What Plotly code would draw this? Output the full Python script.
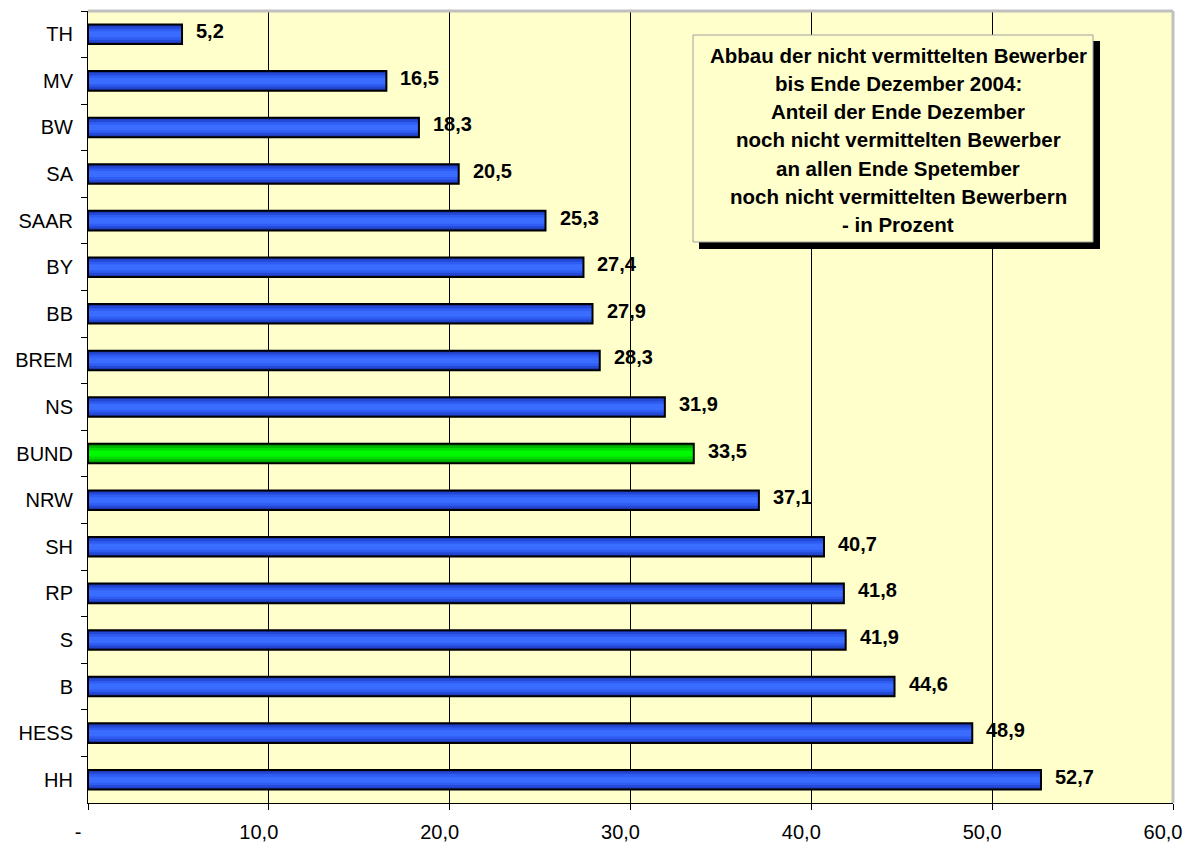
import plotly.graph_objects as go

categories = ["TH", "MV", "BW", "SA", "SAAR", "BY", "BB", "BREM", "NS", "BUND",
              "NRW", "SH", "RP", "S", "B", "HESS", "HH"]
values = [5.2, 16.5, 18.3, 20.5, 25.3, 27.4, 27.9, 28.3, 31.9, 33.5,
          37.1, 40.7, 41.8, 41.9, 44.6, 48.9, 52.7]
highlight = "BUND"

x_tickvals = [0, 10, 20, 30, 40, 50, 60]
x_ticktext = ["-", "10,0", "20,0", "30,0", "40,0", "50,0", "60,0"]

title_lines = [
    "Abbau der nicht vermittelten Bewerber",
    "bis Ende Dezember 2004:",
    "Anteil der Ende Dezember",
    "noch nicht vermittelten Bewerber",
    "an allen Ende Spetember",
    "noch nicht vermittelten Bewerbern",
    "- in Prozent",
]

W, H = 1192, 844
ML, MR, MT, MB = 88, 19, 11, 41
PW, PH = W - ML - MR, H - MT - MB


def px(x):
    return (x - ML) / PW


def py(y):
    return (H - MB - y) / PH


FONT = "Liberation Sans, Arial, sans-serif"

# gradient layers (outer -> inner)
blue_layers = ["#1a36a8", "#2449d4", "#2f5cf2", "#3a6cff"]
green_layers = ["#009000", "#00b800", "#00dc00", "#00f800"]
widths = [0.42, 0.34, 0.24, 0.13]

fig = go.Figure()
for i, w in enumerate(widths):
    cols = [green_layers[i] if c == highlight else blue_layers[i] for c in categories]
    fig.add_trace(go.Bar(
        x=values, y=categories, orientation="h", width=w,
        marker=dict(color=cols, line=dict(width=0)),
        hoverinfo="skip", showlegend=False,
    ))
# outline layer
fig.add_trace(go.Bar(
    x=values, y=categories, orientation="h", width=widths[0],
    marker=dict(color="rgba(0,0,0,0)", line=dict(color="black", width=2)),
    showlegend=False,
))

annotations = []
for c, v in zip(categories, values):
    annotations.append(dict(
        x=v, y=c, xref="x", yref="y", text=f"{v:.1f}".replace(".", ","),
        showarrow=False, xanchor="left", yanchor="middle", xshift=12, yshift=3,
        font=dict(family=FONT, size=20, color="black", weight="bold"),
    ))

text_cx = px(898)
cap_tops = [48, 76.3, 104.6, 132.9, 161.2, 189.5, 217.8]
for line, ct in zip(title_lines, cap_tops):
    annotations.append(dict(
        x=text_cx, y=py(ct + 7), xref="paper", yref="paper", text=line,
        showarrow=False, xanchor="center", yanchor="middle",
        font=dict(family=FONT, size=20.5, color="black", weight="bold"),
    ))

shapes = [
    # box shadow
    dict(type="rect", xref="paper", yref="paper",
         x0=px(699), x1=px(1100), y0=py(249), y1=py(41),
         fillcolor="black", line=dict(width=0), layer="above"),
    # box
    dict(type="rect", xref="paper", yref="paper",
         x0=px(693), x1=px(1093), y0=py(242), y1=py(35),
         fillcolor="#FFFFCC", line=dict(color="#a0a0a0", width=1), layer="above"),
    # gray plot border top / right
    dict(type="line", xref="paper", yref="paper", x0=0, x1=1, y0=1, y1=1,
         line=dict(color="#c0c0c0", width=3), layer="above"),
    dict(type="line", xref="paper", yref="paper", x0=1, x1=1, y0=0, y1=1,
         line=dict(color="#c0c0c0", width=3), layer="above"),
]

fig.update_layout(
    width=W, height=H,
    margin=dict(l=ML, r=MR, t=MT, b=MB, pad=0, autoexpand=False),
    paper_bgcolor="white", plot_bgcolor="#FFFFCC",
    barmode="overlay",
    font=dict(family=FONT, size=20, color="black"),
    annotations=annotations, shapes=shapes,
    xaxis=dict(
        range=[0, 60], tickvals=x_tickvals, ticktext=x_ticktext,
        showgrid=True, gridcolor="black", gridwidth=1,
        showline=True, linecolor="black", linewidth=1,
        ticks="outside", ticklen=6, tickcolor="black",
        ticklabelstandoff=5, ticklabelshift=-10, automargin=False,
        zeroline=False, tickfont=dict(family=FONT, size=20, color="black"),
        fixedrange=True,
    ),
    yaxis=dict(
        type="category", categoryorder="array", categoryarray=categories,
        autorange="reversed", showgrid=False,
        showline=True, linecolor="black", linewidth=1,
        ticks="outside", ticklen=6, tickcolor="black", tickson="boundaries",
        ticklabelstandoff=10, automargin=False,
        tickfont=dict(family=FONT, size=20, color="black"),
        zeroline=False, fixedrange=True,
    ),
)

fig.write_html(
    "out.html",
    config={"displayModeBar": False},
    post_script="document.body.style.margin='0';document.body.style.overflow='hidden';",
)
